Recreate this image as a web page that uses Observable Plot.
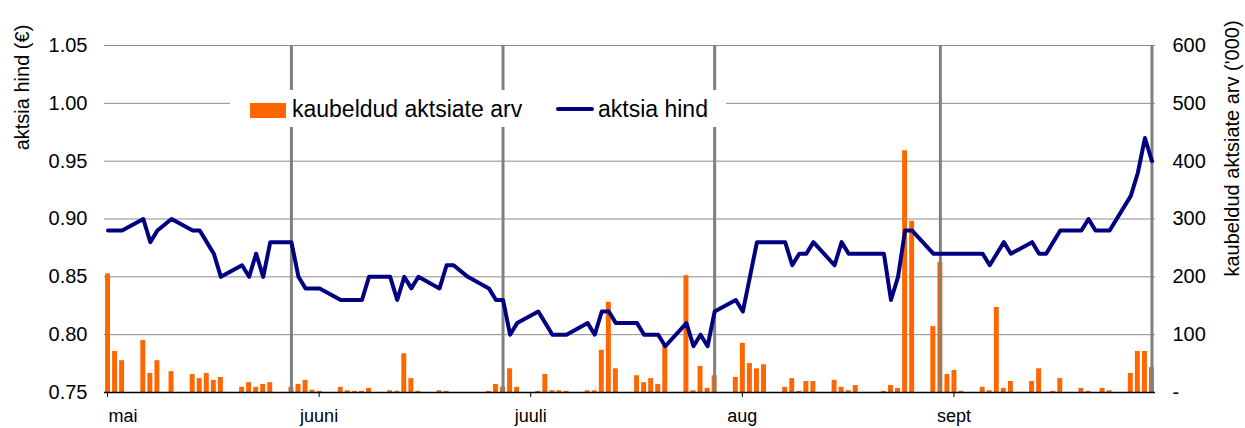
<!DOCTYPE html>
<html>
<head>
<meta charset="utf-8">
<script src="https://cdn.jsdelivr.net/npm/d3@7"></script>
<script src="https://cdn.jsdelivr.net/npm/@observablehq/plot@0.6"></script>
<style>
  html, body { margin: 0; padding: 0; background: #fff; }
  #wrap { position: relative; width: 1245px; height: 428px; font-family: "Liberation Sans", Arial, sans-serif; }
  #legend { position: absolute; left: 230px; top: 90px; width: 496px; height: 37px; background: #fff; }
  #legend .sw { position: absolute; }
  #legend .lt { position: absolute; font-size: 23px; line-height: 23px; color: #000; white-space: nowrap; }
</style>
</head>
<body>
<div id="wrap">
  <div id="legend">
    <div class="sw" style="left:20px;top:13px;width:36px;height:15px;background:#FF6600"></div>
    <div class="lt" style="left:62px;top:7.5px">kaubeldud aktsiate arv</div>
    <div class="sw" style="left:326px;top:17px;width:38px;height:4px;background:#000080;border-radius:2px"></div>
    <div class="lt" style="left:368px;top:7.5px">aktsia hind</div>
  </div>
</div>
<script>
// trading days (2013)
const dates = [
  "2013-05-01","2013-05-02","2013-05-03","2013-05-06","2013-05-07","2013-05-08","2013-05-10",
  "2013-05-13","2013-05-14","2013-05-15","2013-05-16","2013-05-17",
  "2013-05-20","2013-05-21","2013-05-22","2013-05-23","2013-05-24",
  "2013-05-27","2013-05-28","2013-05-29","2013-05-30","2013-05-31",
  "2013-06-03","2013-06-04","2013-06-05","2013-06-06","2013-06-07",
  "2013-06-10","2013-06-11","2013-06-12","2013-06-13","2013-06-14",
  "2013-06-17","2013-06-18","2013-06-19","2013-06-21",
  "2013-06-24","2013-06-25","2013-06-26","2013-06-27","2013-06-28",
  "2013-07-01","2013-07-02","2013-07-03","2013-07-04","2013-07-05",
  "2013-07-08","2013-07-09","2013-07-10","2013-07-11","2013-07-12",
  "2013-07-15","2013-07-16","2013-07-17","2013-07-18","2013-07-19",
  "2013-07-22","2013-07-23","2013-07-24","2013-07-25","2013-07-26",
  "2013-07-29","2013-07-30","2013-07-31","2013-08-01","2013-08-02",
  "2013-08-05","2013-08-06","2013-08-07","2013-08-08","2013-08-09",
  "2013-08-12","2013-08-13","2013-08-14","2013-08-15","2013-08-16",
  "2013-08-19","2013-08-20","2013-08-21","2013-08-22","2013-08-23",
  "2013-08-26","2013-08-27","2013-08-28","2013-08-29","2013-08-30",
  "2013-09-02","2013-09-03","2013-09-04","2013-09-05","2013-09-06",
  "2013-09-09","2013-09-10","2013-09-11","2013-09-12","2013-09-13",
  "2013-09-16","2013-09-17","2013-09-18","2013-09-19","2013-09-20",
  "2013-09-23","2013-09-24","2013-09-25","2013-09-26"
];
// aktsia hind (€)
const price = [
  0.89,0.89,0.89,0.90,0.88,0.89,0.90,
  0.89,0.89,0.88,0.87,0.85,
  0.86,0.85,0.87,0.85,0.88,
  0.88,0.85,0.84,0.84,0.84,
  0.83,0.83,0.83,0.83,0.85,
  0.85,0.83,0.85,0.84,0.85,
  0.84,0.86,0.86,0.85,
  0.84,0.83,0.83,0.80,0.81,
  0.82,0.81,0.80,0.80,0.80,
  0.81,0.80,0.82,0.82,0.81,
  0.81,0.80,0.80,0.80,0.79,
  0.81,0.79,0.80,0.79,0.82,
  0.83,0.82,0.85,0.88,0.88,
  0.88,0.86,0.87,0.87,0.88,
  0.86,0.88,0.87,0.87,0.87,
  0.87,0.83,0.85,0.89,0.89,
  0.87,0.87,0.87,0.87,0.87,
  0.87,0.86,0.87,0.88,0.87,
  0.88,0.87,0.87,0.88,0.89,
  0.89,0.90,0.89,0.89,0.89,
  0.92,0.94,0.97,0.95
];
// kaubeldud aktsiate arv ('000)
const volume = [
  205,71,55,90,33,55,36,
  31,24,33,21,26,
  9,17,9,14,17,
  9,14,21,4,2,
  9,3,2,2,7,
  3,2,67,24,2,
  3,2,0,0,
  2,14,9,41,9,
  2,31,3,3,2,
  3,3,73,156,41,
  29,17,24,14,81,
  202,3,45,7,29,
  26,85,50,41,48,
  9,24,2,19,19,
  21,9,3,12,0,
  2,12,7,418,296,
  114,225,31,38,2,
  9,3,147,7,19,
  19,41,0,2,24,
  7,2,0,7,3,
  33,71,71,43
];
const markerDates = ["2013-05-27","2013-06-26","2013-07-26","2013-08-27","2013-09-26"];
const tickDates = ["2013-05-01","2013-05-31","2013-06-30","2013-07-30","2013-08-29"];
const tickLabels = ["mai","juuni","juuli","aug","sept"];
const priceTicks = [0.75,0.80,0.85,0.90,0.95,1.00,1.05];
const volumeTicks = [0,100,200,300,400,500,600];

const DAY = 864e5;
const parse = s => new Date(s + "T00:00:00Z");
const mid = d => new Date(+d + DAY / 2);
const volToPrice = v => 0.75 + v * (0.30 / 600);

const rows = dates.map((d, i) => ({date: parse(d), price: price[i], volume: volume[i]}));
const ticks = tickDates.map(parse);
const labelMap = new Map(ticks.map((t, i) => [+t, tickLabels[i]]));
const volLabelMap = new Map(volumeTicks.map(v => [volToPrice(v).toFixed(4), v === 0 ? "-" : String(v)]));

const chart = Plot.plot({
  width: 1245,
  height: 428,
  marginLeft: 104,
  marginRight: 90,
  marginTop: 45,
  marginBottom: 36,
  style: {fontFamily: '"Liberation Sans", Arial, sans-serif', fontSize: "20px", color: "#000", background: "#fff", overflow: "visible"},
  x: {type: "utc", domain: [parse("2013-05-01"), parse("2013-09-27")], axis: null},
  y: {domain: [0.75, 1.05], axis: null},
  marks: [
    Plot.ruleY(priceTicks, {stroke: "#8c8c8c", strokeWidth: 1}),
    Plot.rect(rows.filter(d => d.volume > 0), {
      x1: d => new Date(+d.date + 0.15 * DAY),
      x2: d => new Date(+d.date + 0.85 * DAY),
      y1: () => 0.75,
      y2: d => volToPrice(d.volume),
      fill: "#FF6600"
    }),
    Plot.ruleX(markerDates.map(parse), {x: mid, stroke: "#808080", strokeWidth: 3}),
    Plot.line(rows, {x: d => mid(d.date), y: "price", stroke: "#000080", strokeWidth: 4, strokeLinejoin: "round", strokeLinecap: "round"}),
    Plot.ruleY([0.75], {stroke: "#000", strokeWidth: 1.5}),
    Plot.axisX(ticks, {anchor: "bottom", tickSize: 5, tickPadding: 12, fontSize: 18, dx: 3, label: null,
      tickFormat: d => (+d === +ticks[0] ? "" : labelMap.get(+d))}),
    Plot.text([ticks[0]], {x: d => d, text: () => tickLabels[0], frameAnchor: "bottom", dy: 17, dx: 4,
      textAnchor: "start", lineAnchor: "top", fontSize: 18}),
    Plot.axisY(priceTicks, {anchor: "left", tickSize: 0, tickPadding: 17, fontSize: 20, label: null,
      tickFormat: d3.format(".2f")}),
    Plot.axisY(volumeTicks.map(volToPrice), {anchor: "right", tickSize: 0, tickPadding: 17, fontSize: 20, label: null,
      tickFormat: d => volLabelMap.get(d.toFixed(4))}),
    Plot.text(["aktsia hind (€)"], {text: d => d, frameAnchor: "top-left", dx: -82, dy: 42, rotate: -90,
      textAnchor: "middle", lineAnchor: "middle", fontSize: 20}),
    Plot.text(["kaubeldud aktsiate arv ('000)"], {text: d => d, frameAnchor: "top-right", dx: 77, dy: 103, rotate: -90,
      textAnchor: "middle", lineAnchor: "middle", fontSize: 20})
  ]
});
document.getElementById("wrap").insertBefore(chart, document.getElementById("legend"));
</script>
</body>
</html>
